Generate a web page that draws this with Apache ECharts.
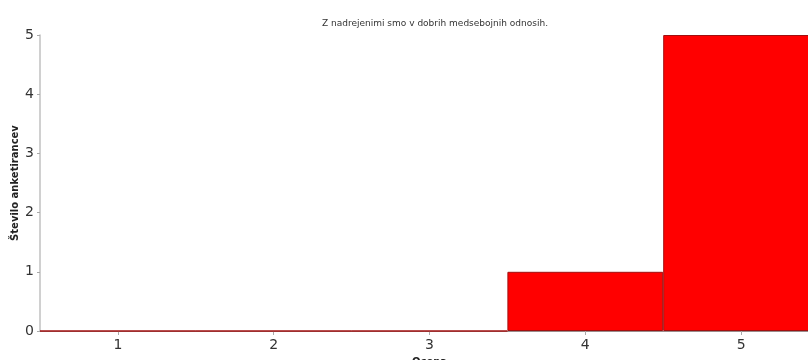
<!DOCTYPE html>
<html><head><meta charset="utf-8">
<script src="https://cdn.jsdelivr.net/npm/echarts@6/dist/echarts.min.js"></script>
<style>html,body{margin:0;padding:0;background:#fff}#c{width:808px;height:360px}</style>
</head><body><div id="c"></div>
<script>
var categories = ['1','2','3','4','5'];
var counts = [0, 0, 0, 1, 5];
var yTicks = [0, 1, 2, 3, 4, 5];
var titleText = 'Z nadrejenimi smo v dobrih medsebojnih odnosih.';
var xName = 'Ocena';
var yName = 'Število anketirancev';

var chart = echarts.init(document.getElementById('c'), null, {renderer:'canvas'});
chart.setOption({
  animation: false,
  title: {text: titleText, left: 430, top: 14, textAlign: 'center',
    textStyle: {fontFamily: 'DejaVu Sans', fontSize: 9, fontWeight: 'normal', color: '#333'}},
  grid: {left: 40, top: 35, bottom: 29, width: 779, containLabel: false, outerBoundsMode: 'none'},
  xAxis: {type: 'category', data: categories, name: xName, nameLocation: 'middle', nameGap: 26,
    nameMoveOverlap: false,
    nameTextStyle: {fontFamily: 'DejaVu Sans', fontSize: 10, fontWeight: 'bold', color: '#222'},
    axisLine: {lineStyle: {color: '#9a8c8c', width: 1}},
    axisTick: {show: true, alignWithLabel: true, length: 4, lineStyle: {color: '#aaa'}},
    axisLabel: {fontFamily: 'DejaVu Sans', fontSize: 14, color: '#333', margin: 7}},
  yAxis: {type: 'value', min: yTicks[0], max: yTicks[yTicks.length-1], interval: 1,
    name: yName, nameLocation: 'middle', nameGap: 20, nameRotate: 90, nameMoveOverlap: false,
    nameTextStyle: {fontFamily: 'DejaVu Sans', fontSize: 10, fontWeight: 'bold', color: '#222'},
    axisLine: {show: true, lineStyle: {color: '#c0c0c0', width: 1.5}},
    axisTick: {show: true, length: 3, lineStyle: {color: '#aaa'}},
    axisLabel: {fontFamily: 'DejaVu Sans', fontSize: 14, color: '#333', margin: 6},
    splitLine: {show: false}},
  series: [{type: 'bar', data: counts, barWidth: '100%', barGap: '0%', barCategoryGap: '0%',
    itemStyle: {color: '#ff0000', borderColor: '#a01010', borderWidth: 1}}]
});
</script></body></html>
